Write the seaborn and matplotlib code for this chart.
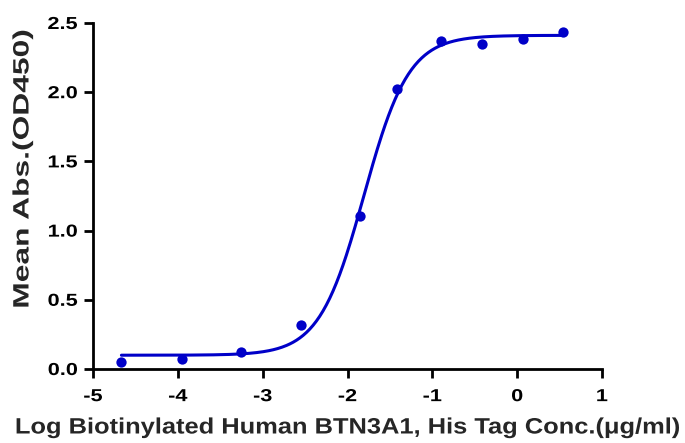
import numpy as np
import pandas as pd
import matplotlib
matplotlib.use("Agg")
import matplotlib.pyplot as plt
import matplotlib.patheffects as pe
from matplotlib.transforms import Affine2D
import seaborn as sns

# Data
log_conc = [-4.665, -3.956, -3.252, -2.551, -1.851, -1.418, -0.895, -0.411, 0.073, 0.546]
mean_abs = [0.053, 0.070, 0.120, 0.318, 1.108, 2.020, 2.372, 2.348, 2.384, 2.437]
x_ticks = [-5, -4, -3, -2, -1, 0, 1]
y_ticks = [0.0, 0.5, 1.0, 1.5, 2.0, 2.5]
x_label = "Log Biotinylated Human BTN3A1, His Tag Conc.(μg/ml)"
y_label = "Mean Abs.(OD450)"
color = "#0000C8"


def four_pl(x, p):
    bottom, top, logec50, hill = p
    return bottom + (top - bottom) / (1.0 + 10.0 ** ((logec50 - x) * hill))


def fit_four_pl(x, y):
    x = np.asarray(x, float)
    y = np.asarray(y, float)
    p = np.array([y.min(), y.max(), -1.8, 1.5])
    lam = 1e-2
    for _ in range(300):
        r = y - four_pl(x, p)
        J = np.empty((len(x), 4))
        for i in range(4):
            dp = np.zeros(4)
            dp[i] = 1e-6
            J[:, i] = (four_pl(x, p + dp) - four_pl(x, p - dp)) / 2e-6
        A = J.T @ J
        g = J.T @ r
        step = np.linalg.solve(A + lam * np.diag(np.diag(A)), g)
        pn = p + step
        if np.sum((y - four_pl(x, pn)) ** 2) < np.sum(r ** 2):
            p = pn
            lam *= 0.5
        else:
            lam *= 4
    return p


class Stretch(pe.AbstractPathEffect):
    """Widen glyphs along the text direction (the reference uses a wide face)."""

    def __init__(self, sx, anchor="center"):
        super().__init__()
        self.sx = sx
        self.anchor = anchor

    def draw_path(self, renderer, gc, tpath, affine, rgbFace=None):
        ext = tpath.get_extents()
        if self.anchor == "right":
            cx = ext.x1
        elif self.anchor == "left":
            cx = ext.x0
        else:
            cx = 0.5 * (ext.x0 + ext.x1)
        t = Affine2D().translate(-cx, 0).scale(self.sx, 1).translate(cx, 0) + affine
        renderer.draw_path(gc, tpath, t, rgbFace)


params = fit_four_pl(log_conc, mean_abs)
xs = np.linspace(min(log_conc), max(log_conc), 400)
curve = pd.DataFrame({"x": xs, "y": four_pl(xs, params)})
pts = pd.DataFrame({"x": log_conc, "y": mean_abs})

sns.set_theme(style="ticks")
plt.rcParams["font.family"] = ["Liberation Sans", "DejaVu Sans"]
plt.rcParams["axes.unicode_minus"] = False

fig = plt.figure(figsize=(6.85, 4.43), dpi=100)
ax = fig.add_axes([93 / 685, 74 / 443, 509 / 685, 346 / 443])

sns.lineplot(data=curve, x="x", y="y", ax=ax, color=color, linewidth=2.2)
sns.scatterplot(data=pts, x="x", y="y", ax=ax, color=color, s=55, edgecolor=color,
                linewidth=0, zorder=3, clip_on=False)

ax.set_xlim(-5, 1)
ax.set_ylim(0, 2.5)
ax.set_xticks(x_ticks)
ax.set_yticks(y_ticks)
ax.set_xticklabels([str(t) for t in x_ticks])
ax.set_yticklabels([f"{t:.1f}" for t in y_ticks])
for lab in ax.get_xticklabels():
    lab.set_fontweight("bold")
    lab.set_fontsize(12.5)
    lab.set_path_effects([Stretch(1.25, "center")])
for lab in ax.get_yticklabels():
    lab.set_fontweight("bold")
    lab.set_fontsize(12.5)
    lab.set_path_effects([Stretch(1.25, "right")])

ax.set_xlabel(x_label, fontsize=16, fontweight="bold", va="center", ha="center")
ax.xaxis.set_label_coords(0.5, (369 - 428) / 346)
ax.xaxis.label.set_path_effects([Stretch(1.145, "center")])

ax.set_ylabel(y_label, fontsize=16, fontweight="bold", va="center", ha="center")
ax.yaxis.set_label_coords((23 - 93) / 509, (369 - 169) / 346)
ax.yaxis.label.set_path_effects([Stretch(1.43, "center")])

for s in ["top", "right"]:
    ax.spines[s].set_visible(False)
for s in ["left", "bottom"]:
    ax.spines[s].set_linewidth(2.0)
    ax.spines[s].set_color("black")
ax.tick_params(axis="both", direction="out", length=6.5, width=2.0, colors="black",
               labelcolor="black")
ax.tick_params(axis="x", pad=8)
ax.tick_params(axis="y", pad=4.5)

fig.savefig("out.png", dpi=100, facecolor="white")
